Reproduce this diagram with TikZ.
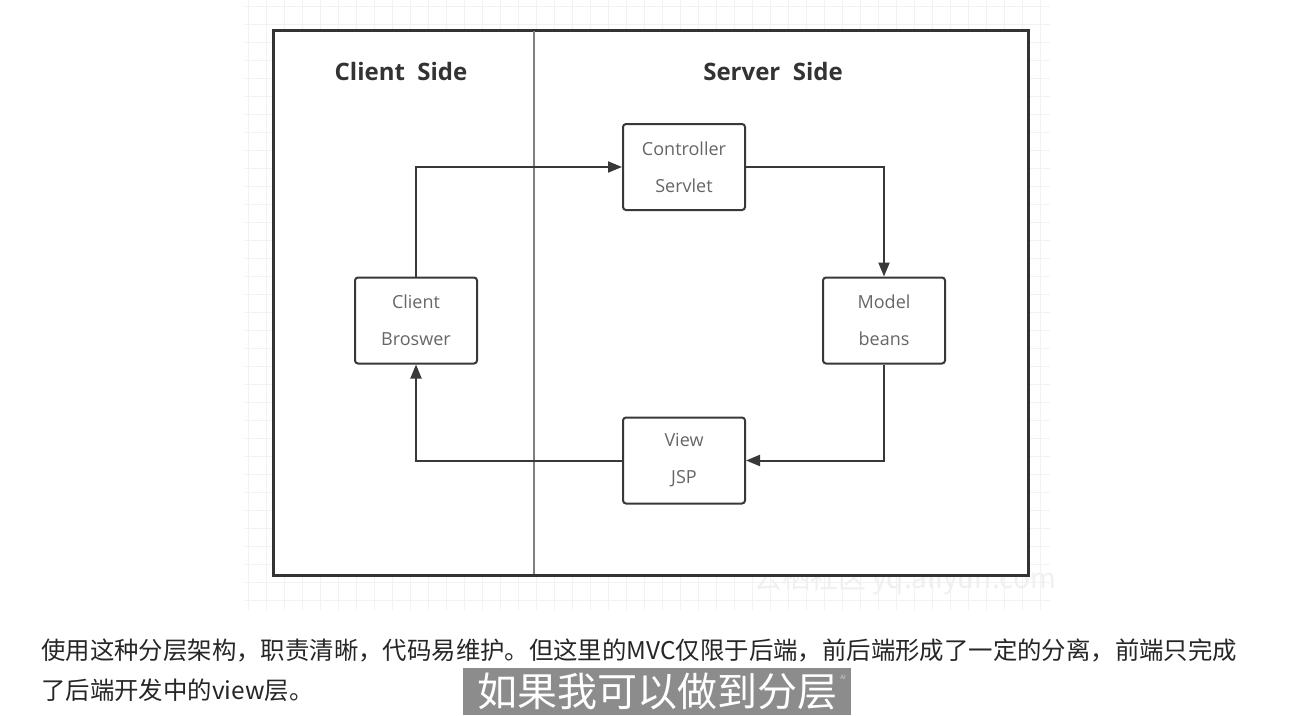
\documentclass[tikz,border=0pt]{standalone}
\usepackage{fontspec}
\setmainfont{Open Sans}
\newfontfamily\cjk{Noto Sans CJK SC}
\usetikzlibrary{arrows.meta}
\begin{document}
\begin{tikzpicture}[x=1pt,y=-1pt,
  box/.style={draw=black!78, line width=2pt, rounded corners=3pt, minimum width=122pt, minimum height=86pt, inner sep=0pt, align=center, text=black!60, font=\fontsize{18}{37}\selectfont},
  conn/.style={draw=black!78, line width=2pt, -{Triangle[length=14pt,width=11pt]}},
  title/.style={font=\bfseries\fontsize{24}{24}\selectfont, text=black!80},
  gridline/.style={draw=black!5, line width=0.6pt},
]
\useasboundingbox (0,0) rectangle (1309,715);
\fill[white] (0,0) rectangle (1309,715);
% faint canvas grid
\foreach \x in {248,266,...,1050} {\draw[gridline] (\x,0) -- (\x,610);}
\foreach \y in {6,24,...,610} {\draw[gridline] (245,\y) -- (1050,\y);}
% watermark
\node[text=black!6, font=\cjk\fontsize{28}{28}\selectfont] (wm) at (905,580) {云栖社区 yq.aliyun.com};
% frame
\node[draw=black!80, line width=3pt, fill=white, minimum width=755pt, minimum height=545pt, inner sep=0pt] (frame) at (650.5,302.5) {};
\coordinate (dtop) at (534,31);
\coordinate (dbot) at (534,574);
\draw[black!50, line width=1.2pt] (dtop) -- (dbot);
% titles
\node[title] (ctitle) at (401,71) {Client\ \ Side};
\node[title] (stitle) at (773,71) {Server\ \ Side};
% boxes
\node[box] (ctrl) at (684,167) {Controller\\Servlet};
\node[box] (model) at (884,320.5) {Model\\beans};
\node[box] (view) at (684,460.5) {View\\JSP};
\node[box] (client) at (416,320.5) {Client\\Broswer};
% connectors
\draw[conn] (client.north) |- (ctrl.west);
\draw[conn] (ctrl.east) -| (model.north);
\draw[conn] (model.south) |- (view.east);
\draw[conn] (view.west) -| (client.south);
% caption text
\node[anchor=west, inner sep=0pt, text=black!85, font=\cjk\fontsize{24.4}{24}\selectfont] (line1) at (41,650) {使用这种分层架构，职责清晰，代码易维护。但这里的MVC仅限于后端，前后端形成了一定的分离，前端只完成};
\node[anchor=west, inner sep=0pt, text=black!85, font=\cjk\fontsize{24.4}{24}\selectfont] (line2) at (41,690) {了后端开发中的view层。};
% subtitle
\node[fill=black!45, text=white, minimum width=388pt, minimum height=47pt, inner sep=0pt, font=\cjk\fontsize{40}{40}\selectfont] (sub) at (657,691.5) {如果我可以做到分层\hspace{14pt}};
\node[text=white!85!black, inner sep=0pt, font=\fontsize{6}{6}\selectfont] (ai) at (843,677) {AI};
\end{tikzpicture}
\end{document}
